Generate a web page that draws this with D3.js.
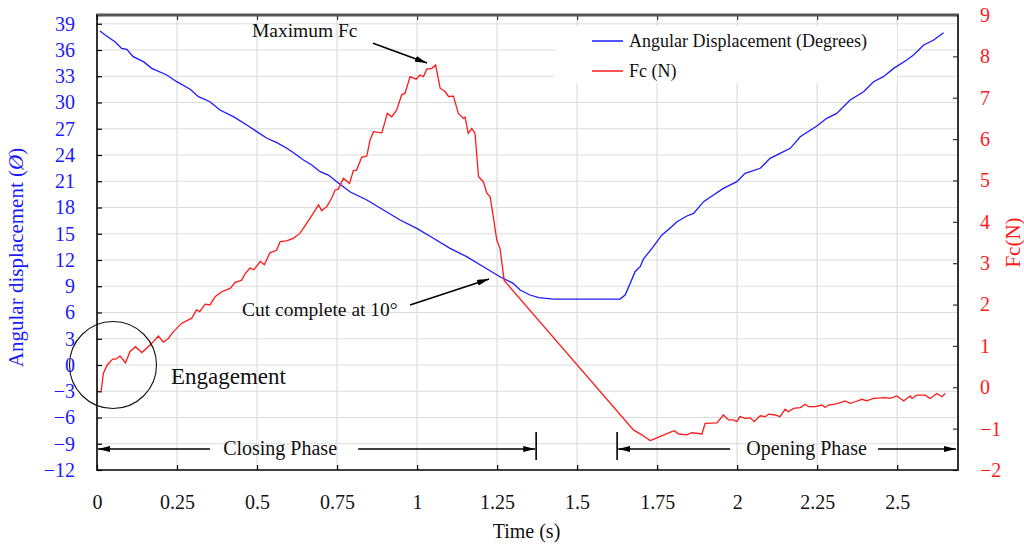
<!DOCTYPE html>
<html>
<head>
<meta charset="utf-8">
<script src="https://cdn.jsdelivr.net/npm/d3@7"></script>
<style>
html,body{margin:0;padding:0;background:#fff;}
svg{display:block;}
svg text{font-family:"Liberation Serif","Times New Roman",serif !important;}
</style>
</head>
<body>
<svg id="chart" width="1024" height="545"></svg>
<script>
// ---------- DATA ----------
const xTicks = [0, 0.25, 0.5, 0.75, 1, 1.25, 1.5, 1.75, 2, 2.25, 2.5];
const xTickLabels = ["0", "0.25", "0.5", "0.75", "1", "1.25", "1.5", "1.75", "2", "2.25", "2.5"];
const leftTicks = [-12, -9, -6, -3, 0, 3, 6, 9, 12, 15, 18, 21, 24, 27, 30, 33, 36, 39];
const rightTicks = [-2, -1, 0, 1, 2, 3, 4, 5, 6, 7, 8, 9];

// Angular displacement (degrees) vs time (s)
const angTime = [0.009,0.030,0.056,0.077,0.093,0.113,0.145,0.171,0.218,0.249,0.291,0.317,0.353,0.384,0.426,0.468,0.499,0.531,0.562,0.593,0.614,0.645,0.671,0.697,0.723,0.749,0.790,0.843,0.895,0.947,0.999,1.051,1.103,1.155,1.207,1.259,1.300,1.322,1.353,1.380,1.427,1.500,1.570,1.634,1.650,1.666,1.681,1.697,1.707,1.738,1.765,1.790,1.812,1.843,1.864,1.895,1.926,1.957,1.999,2.025,2.072,2.103,2.134,2.166,2.197,2.249,2.280,2.311,2.353,2.395,2.426,2.457,2.489,2.530,2.551,2.583,2.614,2.645];
const angValues = [38.17,37.60,36.95,36.19,36.08,35.24,34.67,33.90,33.14,32.38,31.51,30.67,30.09,29.14,28.38,27.43,26.67,25.91,25.41,24.77,24.26,23.43,22.86,22.09,21.71,20.95,19.80,18.86,17.71,16.57,15.62,14.48,13.33,12.38,11.23,10.09,9.33,8.57,8.00,7.69,7.54,7.54,7.54,7.54,8.00,9.33,10.66,11.23,12.10,13.52,14.86,15.62,16.38,17.03,17.33,18.67,19.43,20.19,20.95,21.90,22.48,23.62,24.19,24.76,26.09,27.31,28.19,28.76,30.29,31.23,32.38,32.95,33.90,34.86,35.43,36.57,37.14,37.98];

// Cutting force Fc (N) vs time (s)
const fcTime = [0.0125,0.020,0.032,0.049,0.059,0.072,0.089,0.103,0.120,0.140,0.166,0.192,0.207,0.223,0.238,0.265,0.296,0.311,0.321,0.3375,0.353,0.369,0.390,0.416,0.431,0.452,0.4625,0.478,0.490,0.510,0.523,0.540,0.561,0.572,0.592,0.613,0.634,0.655,0.676,0.692,0.702,0.718,0.733,0.744,0.754,0.770,0.789,0.801,0.811,0.827,0.843,0.853,0.864,0.890,0.907,0.921,0.936,0.952,0.9625,0.978,0.997,1.009,1.020,1.030,1.046,1.058,1.072,1.0875,1.098,1.1135,1.129,1.145,1.150,1.160,1.171,1.181,1.192,1.207,1.218,1.228,1.239,1.249,1.259,1.272,1.280,1.676,1.702,1.728,1.738,1.796,1.804,1.817,1.843,1.858,1.890,1.900,1.937,1.957,1.973,1.988,1.999,2.009,2.025,2.041,2.053,2.072,2.088,2.098,2.119,2.134,2.150,2.160,2.176,2.197,2.2125,2.223,2.244,2.265,2.275,2.285,2.306,2.322,2.3375,2.353,2.369,2.390,2.405,2.426,2.4625,2.478,2.499,2.520,2.541,2.546,2.561,2.5875,2.603,2.624,2.640,2.650];
const fcValues = [-0.12,0.34,0.54,0.68,0.68,0.76,0.59,0.86,0.98,0.84,1.02,1.24,1.09,1.18,1.34,1.55,1.67,1.87,1.83,2.01,1.99,2.19,2.31,2.39,2.53,2.59,2.74,2.88,2.84,3.04,2.96,3.25,3.31,3.52,3.54,3.60,3.72,3.96,4.21,4.41,4.27,4.37,4.57,4.77,4.79,5.05,4.93,5.24,5.25,5.56,5.59,5.98,6.18,6.15,6.62,6.54,6.70,7.07,7.11,7.51,7.45,7.55,7.51,7.69,7.71,7.79,7.23,7.15,7.03,7.04,6.62,6.50,6.53,6.14,6.26,6.14,5.09,4.97,4.69,4.61,4.08,3.56,3.36,2.59,2.51,-1.03,-1.15,-1.29,-1.26,-1.07,-1.05,-1.13,-1.15,-1.10,-1.13,-0.87,-0.86,-0.67,-0.79,-0.79,-0.83,-0.71,-0.75,-0.74,-0.83,-0.69,-0.71,-0.65,-0.67,-0.71,-0.53,-0.59,-0.51,-0.49,-0.41,-0.47,-0.47,-0.43,-0.49,-0.43,-0.41,-0.37,-0.33,-0.39,-0.35,-0.29,-0.33,-0.27,-0.25,-0.27,-0.21,-0.33,-0.21,-0.27,-0.19,-0.19,-0.27,-0.15,-0.23,-0.15];

const seriesNames = ["Angular Displacement (Degrees)", "Fc (N)"];

// ---------- CHART ----------
const BLUE = "#1a1aff", RED = "#ff1a1a";
const SERIF = '"Liberation Serif", "Times New Roman", serif';
const svg = d3.select("#chart");
const L = 97, R = 958, T = 15, B = 470;

const x = d3.scaleLinear().domain([0, 2.69]).range([L, R]);
const yL = d3.scaleLinear().domain([-12, 40]).range([B, T]);
const yR = d3.scaleLinear().domain([-2, 9]).range([B, T]);

// grid
const grid = svg.append("g").attr("stroke", "#dcdcdc").attr("stroke-width", 1.2);
grid.selectAll("line.h").data(leftTicks.filter(d => d > -12)).enter().append("line")
  .attr("x1", L).attr("x2", R).attr("y1", d => yL(d)).attr("y2", d => yL(d));
grid.selectAll("line.v").data(xTicks.filter(d => d > 0)).enter().append("line")
  .attr("x1", d => x(d)).attr("x2", d => x(d)).attr("y1", T).attr("y2", B);

// legend background (covers grid)
svg.append("rect").attr("x", 555).attr("y", 26).attr("width", 342).attr("height", 57).attr("fill", "#fff");

// axes
const fontTick = "20px";
const axB = svg.append("g").attr("transform", `translate(0,${B})`)
  .call(d3.axisBottom(x).tickValues(xTicks).tickFormat((d, i) => xTickLabels[i]).tickSizeInner(-5).tickSizeOuter(0).tickPadding(25));
const axT = svg.append("g").attr("transform", `translate(0,${T})`)
  .call(d3.axisTop(x).tickValues(xTicks).tickFormat("").tickSizeInner(-5).tickSizeOuter(0));
const axL = svg.append("g").attr("transform", `translate(${L},0)`)
  .call(d3.axisLeft(yL).tickValues(leftTicks).tickSizeInner(-5).tickSizeOuter(0).tickPadding(22));
const axR = svg.append("g").attr("transform", `translate(${R},0)`)
  .call(d3.axisRight(yR).tickValues(rightTicks).tickSizeInner(-5).tickSizeOuter(0).tickPadding(22));

[axB, axT, axL, axR].forEach(a => {
  a.attr("font-family", SERIF).attr("font-size", 20);
  a.select(".domain").remove();
  a.selectAll("text").attr("font-family", SERIF).style("font-size", fontTick);
});
axB.selectAll("line").attr("stroke", "#000").attr("stroke-width", 1.2);
axT.selectAll("line").attr("stroke", "#333").attr("stroke-width", 1.2);
axL.selectAll("line").attr("stroke", "#000").attr("stroke-width", 1.2);
axR.selectAll("line").attr("stroke", "#333").attr("stroke-width", 1.2);
axB.selectAll("text").attr("fill", "#111");
axL.selectAll("text").attr("fill", BLUE);
axR.selectAll("text").attr("fill", RED);

// frame
svg.append("line").attr("x1", L - 1).attr("x2", R + 1).attr("y1", T).attr("y2", T).attr("stroke", "#555").attr("stroke-width", 3);
svg.append("line").attr("x1", L).attr("x2", L).attr("y1", T).attr("y2", B + 1).attr("stroke", "#000").attr("stroke-width", 1.6);
svg.append("line").attr("x1", L).attr("x2", R).attr("y1", B).attr("y2", B).attr("stroke", "#000").attr("stroke-width", 1.6);
svg.append("line").attr("x1", R).attr("x2", R).attr("y1", T).attr("y2", B + 1).attr("stroke", "#333").attr("stroke-width", 2);

// series
const angData = angTime.map((t, i) => [t, angValues[i]]);
const fcData = fcTime.map((t, i) => [t, fcValues[i]]);
svg.append("path").datum(angData).attr("fill", "none").attr("stroke", BLUE).attr("stroke-width", 1.3)
  .attr("d", d3.line().x(d => x(d[0])).y(d => yL(d[1])));
svg.append("path").datum(fcData).attr("fill", "none").attr("stroke", RED).attr("stroke-width", 1.3)
  .attr("d", d3.line().x(d => x(d[0])).y(d => yR(d[1])));

// legend
const leg = svg.append("g");
[[BLUE, 41, 46.5], [RED, 71, 76.5]].forEach((c, i) => {
  leg.append("line").attr("x1", 592).attr("x2", 623).attr("y1", c[1]).attr("y2", c[1]).attr("stroke", c[0]).attr("stroke-width", 1.5);
  leg.append("text").attr("x", 629).attr("y", c[2]).attr("font-size", "18px").attr("fill", "#111").text(seriesNames[i]);
});

// axis titles
const yt = svg.append("text").attr("transform", `translate(23,${(T + B) / 2 + 15}) rotate(-90)`).attr("text-anchor", "middle")
  .attr("font-size", "21px").attr("fill", BLUE);
yt.append("tspan").text("Angular displacement (");
yt.append("tspan").attr("font-style", "italic").text("Ø");
yt.append("tspan").text(")");
svg.append("text").attr("transform", `translate(1020,${(T + B) / 2}) rotate(-90)`).attr("text-anchor", "middle")
  .attr("font-size", "21px").attr("fill", RED).text("Fc(N)");
svg.append("text").attr("x", (L + R) / 2 - 1).attr("y", 538).attr("text-anchor", "middle")
  .attr("font-size", "20px").attr("fill", "#111").text("Time (s)");

// arrow marker
const defs = svg.append("defs");
defs.append("marker").attr("id", "arr").attr("viewBox", "0 0 12 6").attr("refX", 12).attr("refY", 3)
  .attr("markerWidth", 12).attr("markerHeight", 6).attr("markerUnits", "userSpaceOnUse").attr("orient", "auto")
  .append("path").attr("d", "M0,0 L12,3 L0,6 Z").attr("fill", "#000");

function arrow(x1, y1, x2, y2) {
  svg.append("line").attr("x1", x1).attr("y1", y1).attr("x2", x2).attr("y2", y2)
    .attr("stroke", "#000").attr("stroke-width", 1.6).attr("marker-end", "url(#arr)");
}
function label(tx, ty, s, size, anchor) {
  svg.append("text").attr("x", tx).attr("y", ty).attr("font-size", size).attr("fill", "#111")
    .attr("text-anchor", anchor || "start").text(s);
}

// Maximum Fc
label(x(0.484), 37, "Maximum Fc", "19.5px");
arrow(x(0.8625), yR(8.32), x(1.031), yR(7.84));

// Cut complete
label(x(0.453), 315.5, "Cut complete at 10°", "19.5px");
arrow(x(0.978), yL(6.86), x(1.225), yL(9.83));

// Engagement
svg.append("circle").attr("cx", x(0.05)).attr("cy", yL(0)).attr("r", 43.5)
  .attr("fill", "none").attr("stroke", "#111").attr("stroke-width", 1.1);
label(x(0.231), 384, "Engagement", "23px");

// Phases
const yP = yL(-9.6);
arrow(x(0.353), yP, x(0) + 1, yP);
label(x(0.572), 454.5, "Closing Phase", "20px", "middle");
arrow(x(0.816), yP, x(1.369), yP);
svg.append("line").attr("x1", x(1.372)).attr("x2", x(1.372)).attr("y1", 432).attr("y2", 460).attr("stroke", "#000").attr("stroke-width", 1.6);

svg.append("line").attr("x1", x(1.625)).attr("x2", x(1.625)).attr("y1", 432).attr("y2", 460).attr("stroke", "#000").attr("stroke-width", 1.6);
arrow(x(1.978), yP, x(1.625) + 1, yP);
label(x(2.217), 454.5, "Opening Phase", "20px", "middle");
arrow(x(2.44), yP, x(2.684), yP);
</script>
</body>
</html>
